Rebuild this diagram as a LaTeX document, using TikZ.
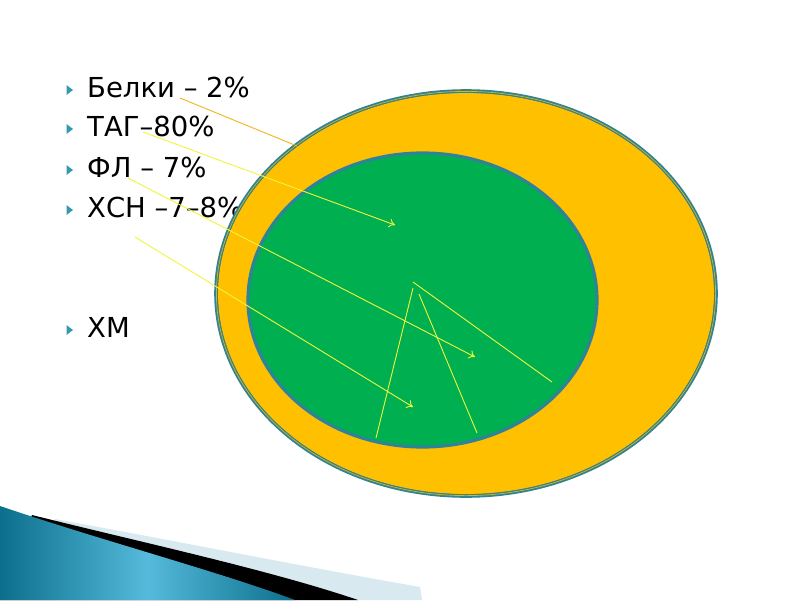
\documentclass[tikz,border=0pt]{standalone}
\usepackage{fontspec}
\setmainfont{DejaVu Sans}
\usetikzlibrary{arrows.meta,shapes.geometric}
\definecolor{teal1}{HTML}{2F8399}
\definecolor{bullet}{HTML}{3399B0}
\definecolor{ogold}{HTML}{FFC000}
\definecolor{igreen}{HTML}{00B050}
\definecolor{ylw}{HTML}{F2F53C}
\definecolor{orl}{HTML}{F2B51E}
\definecolor{lightstrip}{HTML}{D8E9F0}
\definecolor{bluedark}{HTML}{0B6F8C}
\definecolor{bluelight}{HTML}{55BADB}
\tikzset{
  lbl/.style={anchor=base west, inner sep=0pt, font=\fontsize{27.5}{30}\selectfont},
  tri/.style={fill=bullet, draw=none},
  pointer/.style={draw=ylw, line width=0.9pt, -{To[length=6pt,width=9pt]}},
  plain/.style={draw=ylw, line width=0.9pt},
}
\begin{document}
\begin{tikzpicture}[x=1pt,y=-1pt]
\useasboundingbox (0,0) rectangle (800,600);
\fill[white] (0,0) rectangle (800,600);
% bottom-left decoration
\fill[lightstrip] (55,519) .. controls (160,538) and (300,566) .. (420,587) -- (422,600) -- (0,600) -- cycle;
\fill[black] (32,515) .. controls (140,542) and (270,570) .. (358,600) -- (0,600) -- cycle;
\shade[left color=bluedark, right color=bluedark, middle color=bluelight]
  (0,506) .. controls (100,540) and (220,572) .. (295,600) -- (0,600) -- cycle;
% bullets and text
\foreach \yy in {97,136,177,217,337}{
  \fill[tri] (66.5,\yy-12) -- (73,\yy-7) -- (66.5,\yy-2) -- cycle;
}
\node[lbl] (ta) at (87,97) {Белки – 2\%};
\node[lbl] (tb) at (87,136) {ТАГ–80\%};
\node[lbl] (tc) at (87,177) {ФЛ – 7\%};
\node[lbl] (td) at (87,217) {ХСН –7–8\%};
\node[lbl] (te) at (87,337) {ХМ};
% ellipses
\node[draw=teal1, line width=3.6pt, fill=ogold, shape=ellipse, minimum width=500pt, minimum height=405pt, inner sep=0pt] (outer) at (466,293.5) {};
\draw[ogold!80!olive, line width=0.7pt] (466,293.5) ellipse [x radius=249.6, y radius=202.1];
\draw[teal1, line width=0.6pt] (466,293.5) ellipse [x radius=248.4, y radius=200.9];
\node[draw=teal1, line width=3.2pt, fill=igreen, shape=ellipse, minimum width=349pt, minimum height=294pt, inner sep=0pt] (inner) at (422.5,300) {};
% connectors
\coordinate (a1) at (180,98);
\coordinate (a2) at (297,146);
\draw[orl, line width=0.9pt] (a1) -- (a2);
\coordinate (b1) at (143,132);
\coordinate (b2) at (395,225);
\draw[pointer] (b1) -- (b2);
\coordinate (c1) at (128,178);
\coordinate (c2) at (475,357);
\draw[pointer] (c1) -- (c2);
\coordinate (d1) at (135,237);
\coordinate (d2) at (413,407);
\draw[pointer] (d1) -- (d2);
\coordinate (p1) at (413,288);
\coordinate (p2) at (376,438);
\draw[plain] (p1) -- (p2);
\coordinate (q1) at (419,294);
\coordinate (q2) at (477,433);
\draw[plain] (q1) -- (q2);
\coordinate (r1) at (413,282);
\coordinate (r2) at (552,382);
\draw[plain] (r1) -- (r2);
\end{tikzpicture}
\end{document}
